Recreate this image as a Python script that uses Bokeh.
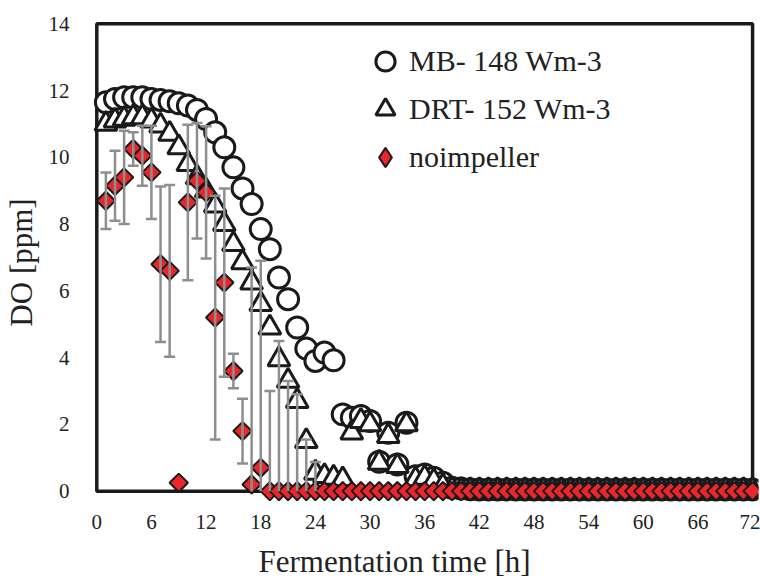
from bokeh.plotting import figure
from bokeh.models import ColumnDataSource, Whisker, TeeHead, FixedTicker, Legend, LegendItem, Range1d, BoxAnnotation, Title
from bokeh.embed import file_html
from bokeh.resources import INLINE
import math

hours = list(range(1, 73))

mb = [11.65, 11.75, 11.8, 11.8, 11.8, 11.75, 11.72, 11.68, 11.62, 11.55,
      11.42, 11.15, 10.75, 10.3, 9.7, 9.07, 8.6, 7.85, 7.25, 6.4,
      5.75, 4.9, 4.27, 3.9, 4.15, 3.92, 2.3, 2.2, 2.25, 2.1,
      0.88, 1.75, 0.8, 2.05, 0.45, 0.5, 0.4, 0.25, 0.1, 0.08,
      0.06, 0.05, 0.05, 0.05, 0.05, 0.05, 0.05, 0.05, 0.05, 0.05,
      0.05, 0.05, 0.05, 0.05, 0.05, 0.05, 0.05, 0.05, 0.05, 0.05,
      0.05, 0.05, 0.05, 0.05, 0.05, 0.05, 0.05, 0.05, 0.05, 0.05,
      0.05, 0.05]

drt = [11.0, 11.1, 11.15, 11.2, 11.2, 11.1, 10.95, 10.7, 10.3, 9.8,
       9.4, 9.0, 8.55, 8.0, 7.4, 6.85, 6.25, 5.6, 4.9, 3.95,
       3.3, 2.7, 1.5, 0.55, 0.45, 0.4, 0.35, 1.75, 2.1, 2.0,
       0.85, 1.65, 0.75, 2.0, 0.35, 0.4, 0.3, 0.15, 0.05, 0.03,
       0.03, 0.03, 0.03, 0.03, 0.03, 0.03, 0.03, 0.03, 0.03, 0.03,
       0.03, 0.03, 0.03, 0.03, 0.03, 0.03, 0.03, 0.03, 0.03, 0.03,
       0.03, 0.03, 0.03, 0.03, 0.03, 0.03, 0.03, 0.03, 0.03, 0.03,
       0.03, 0.03]

noimp = [8.7, 9.15, 9.4, 10.25, 10.05, 9.55, 6.8, 6.6, 0.25, 8.65,
         9.3, 8.95, 5.2, 6.25, 3.6, 1.8, 0.2, 0.7, 0.0, 0.0,
         0.0, 0.0, 0.0, 0.0, 0.0, 0.0, 0.0, 0.0, 0.0, 0.0,
         0.0, 0.0, 0.0, 0.0, 0.0, 0.0, 0.0, 0.0, 0.0, 0.0,
         0.0, 0.0, 0.0, 0.0, 0.0, 0.0, 0.0, 0.0, 0.0, 0.0,
         0.0, 0.0, 0.0, 0.0, 0.0, 0.0, 0.0, 0.0, 0.0, 0.0,
         0.0, 0.0, 0.0, 0.0, 0.0, 0.0, 0.0, 0.0, 0.0, 0.0,
         0.0, 0.0]

noimp_err = [0.85, 1.05, 1.4, 0.5, 0.9, 1.4, 2.33, 2.57, 0.0, 2.33,
             1.73, 1.98, 3.65, 2.82, 0.52, 0.97, 6.5, 6.2, 3.0, 4.5,
             3.3, 2.9, 1.55, 0.87]

x_ticks = [0, 6, 12, 18, 24, 30, 36, 42, 48, 54, 60, 66, 72]
y_ticks = [0, 2, 4, 6, 8, 10, 12, 14]

labels = ["MB- 148 Wm-3", "DRT- 152 Wm-3", "noimpeller"]
x_title = "Fermentation time [h]"
y_title = "DO [ppm]"

FONT = "'Liberation Serif', 'Times New Roman', 'DejaVu Serif', serif"
RED = "#E8262B"
GRAY = "#8E8E8E"
INK = "#1a1a1a"

p = figure(width=760, height=588,
           x_range=Range1d(-0.8, 72.65), y_range=Range1d(-0.4, 14.1),
           output_backend="svg", toolbar_location=None,
           min_border_left=89, min_border_right=2, min_border_top=20, min_border_bottom=82)
p.background_fill_color = "white"
p.border_fill_color = "white"
p.outline_line_color = None
p.xgrid.visible = False
p.ygrid.visible = False

for ax in (p.xaxis[0], p.yaxis[0]):
    ax.axis_line_color = None
    ax.major_tick_line_color = None
    ax.minor_tick_line_color = None
    ax.major_label_text_font = FONT
    ax.major_label_text_font_size = "21px"
    ax.major_label_text_color = "#222222"
    ax.axis_label_text_font = FONT
    ax.axis_label_text_font_style = "normal"
    ax.axis_label_text_color = "#222222"

p.xaxis[0].ticker = FixedTicker(ticks=x_ticks)
p.yaxis[0].ticker = FixedTicker(ticks=y_ticks)
p.yaxis[0].axis_label = y_title
p.yaxis[0].axis_label_text_font_size = "31px"
p.xaxis[0].major_label_standoff = 4
p.yaxis[0].major_label_standoff = 14
p.yaxis[0].axis_label_standoff = 7

# x-axis title placed as a title below the axis, shifted left like the original
xt = Title(text=x_title, align="left", offset=169, standoff=20,
           text_font=FONT, text_font_size="31px", text_font_style="normal",
           text_color="#222222")
p.add_layout(xt, "below")

box = BoxAnnotation(left=x_ticks[0], right=x_ticks[-1], bottom=y_ticks[0], top=y_ticks[-1],
                    fill_alpha=0, line_color=INK, line_alpha=1.0, line_width=3.5, level="underlay")
p.add_layout(box)

r_mb = p.scatter(hours, mb, marker="circle", size=21, fill_color="white",
                 line_color=INK, line_width=3)
r_drt = p.scatter(hours, drt, marker="triangle", size=22, fill_color="white",
                  line_color=INK, line_width=3)

# error bars for noimpeller
eh = hours[:len(noimp_err)]
em = noimp[:len(noimp_err)]
full = dict(x=[], lo=[], hi=[])
clip = dict(x=[], lo=[], hi=[])
for h, m, e in zip(eh, em, noimp_err):
    if e <= 0:
        continue
    d = full if m - e >= 0 else clip
    d["x"].append(h)
    d["lo"].append(max(m - e, 0))
    d["hi"].append(m + e)

w1 = Whisker(source=ColumnDataSource(full), base="x", lower="lo", upper="hi",
             line_color=GRAY, line_width=2.5, level="glyph",
             upper_head=TeeHead(size=11, line_color=GRAY, line_width=2.5),
             lower_head=TeeHead(size=11, line_color=GRAY, line_width=2.5))
w2 = Whisker(source=ColumnDataSource(clip), base="x", lower="lo", upper="hi",
             line_color=GRAY, line_width=2.5, level="glyph",
             upper_head=TeeHead(size=11, line_color=GRAY, line_width=2.5),
             lower_head=None)
p.add_layout(w1)
p.add_layout(w2)

# legend proxy (legend glyphs are never rotated): same data, drawn underneath and fully covered
r_no_leg = p.scatter(hours, noimp, marker="diamond", size=9, fill_color=RED, line_color=INK, line_width=2)
r_no = p.scatter(hours, noimp, marker="square", size=13, angle=math.pi / 4,
                 fill_color=RED, line_color=INK, line_width=2)

legend = Legend(items=[LegendItem(label=labels[0], renderers=[r_mb]),
                       LegendItem(label=labels[1], renderers=[r_drt]),
                       LegendItem(label=labels[2], renderers=[r_no_leg])],
                location=(272, 323), glyph_width=48, glyph_height=48,
                label_standoff=0, spacing=-2, padding=0, margin=0,
                label_text_font=FONT, label_text_font_size="30px",
                label_text_color="#222222",
                border_line_color=None, background_fill_alpha=0)
p.add_layout(legend)

open("out.html", "w").write(file_html(p, INLINE))
